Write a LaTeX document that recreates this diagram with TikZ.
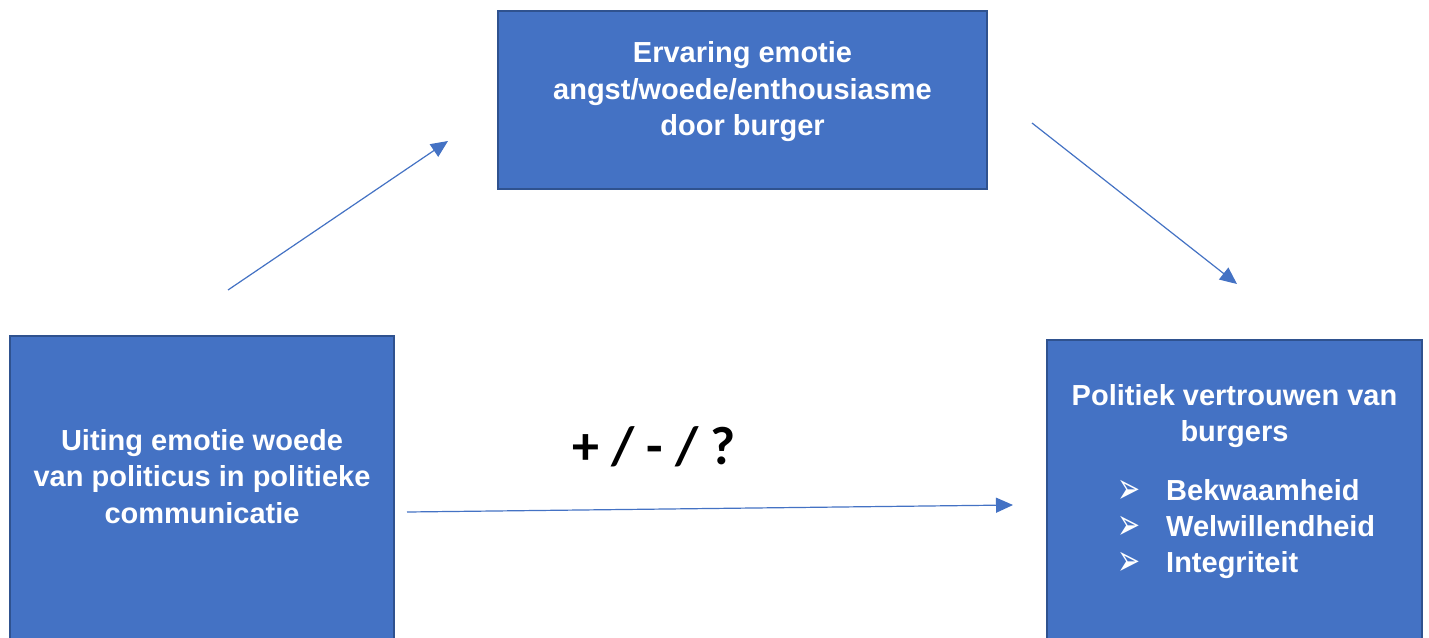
\documentclass[tikz,border=0pt]{standalone}
\usepackage{fontspec}
\setmainfont{Liberation Sans}
\newfontfamily\calib{Carlito}
\newfontfamily\dejavu{DejaVu Sans}
\usetikzlibrary{arrows.meta}
\definecolor{boxfill}{HTML}{4472C4}
\definecolor{boxline}{HTML}{2F528F}
\definecolor{arrowcol}{HTML}{4472C4}
\newcommand{\arrowbullet}{\raisebox{0pt}[21pt][0pt]{\scalebox{0.95}[1.5]{➢}}}
\tikzset{
  bluebox/.style={draw=boxline, line width=2pt, fill=boxfill},
  boxtext/.style={text=white, font=\fontsize{29}{36.5}\selectfont\bfseries, align=center, inner sep=0pt},
  listtext/.style={text=white, font=\fontsize{29}{36}\selectfont\bfseries, anchor=base west, inner sep=0pt},
  bulletmark/.style={text=white, font=\dejavu\fontsize{29}{36}\selectfont, anchor=north, align=center, inner sep=0pt},
  conn/.style={draw=arrowcol, line width=1.2pt, -{Triangle[length=17pt,width=15pt]}},
}
\begin{document}
\begin{tikzpicture}[x=1pt,y=-1pt]
\useasboundingbox (0,0) rectangle (1429,637);
\clip (0,0) rectangle (1429,637);
\fill[white] (0,0) rectangle (1429,637);
% boxes
\path[bluebox] (498,11) rectangle (987,189);
\path[bluebox] (10,336) rectangle (394,660);
\path[bluebox] (1047,340) rectangle (1422,660);
% texts
\node[boxtext] (top) at (742.5,92) {Ervaring emotie\\angst/woede/enthousiasme\\door burger};
\node[boxtext] (left) at (202,476.5) {Uiting emotie woede\\van politicus in politieke\\communicatie};
\node[boxtext] (right) at (1234.5,416) {Politiek vertrouwen van\\burgers};
\node[listtext] (l1) at (1166,500.5) {Bekwaamheid};
\node[listtext] (l2) at (1166,536.5) {Welwillendheid};
\node[listtext] (l3) at (1166,572.5) {Integriteit};
\node[bulletmark] (bullets) at (1129,482.5) {\arrowbullet\\\arrowbullet\\\arrowbullet};
\node[font=\calib\bfseries\fontsize{54}{54}\selectfont, inner sep=0pt] (sign) at (654,447) {+ / - / ?};
% connectors
\coordinate (s1) at (228,290);
\coordinate (e1) at (448,141);
\coordinate (s2) at (1032,123);
\coordinate (e2) at (1237,284);
\coordinate (s3) at (407,512);
\coordinate (e3) at (1013,505);
\draw[conn] (s1) -- (e1);
\draw[conn] (s2) -- (e2);
\draw[conn] (s3) -- (e3);
\end{tikzpicture}
\end{document}
